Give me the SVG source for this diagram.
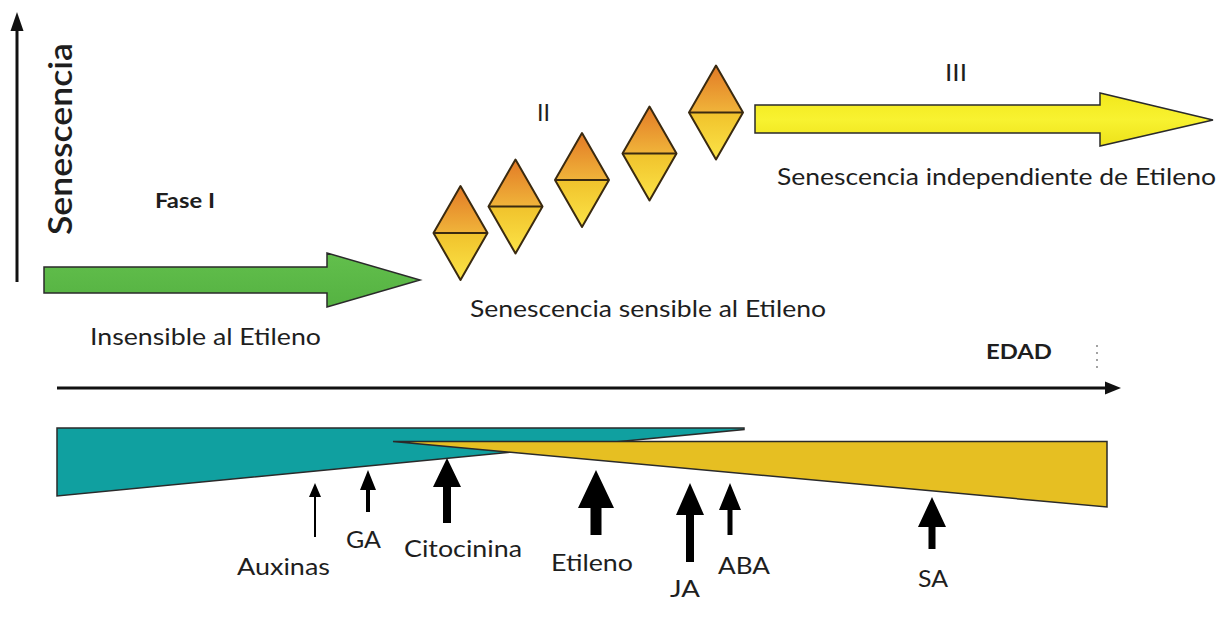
<svg xmlns="http://www.w3.org/2000/svg" width="1230" height="622" viewBox="0 0 1230 622">
  <defs>
    <linearGradient id="gTop" x1="0" y1="0" x2="0" y2="1">
      <stop offset="0" stop-color="#E27A26"/>
      <stop offset="1" stop-color="#F0B43A"/>
    </linearGradient>
    <linearGradient id="gBot" x1="0" y1="0" x2="0" y2="1">
      <stop offset="0" stop-color="#F0C22C"/>
      <stop offset="1" stop-color="#FCE447"/>
    </linearGradient>
    <linearGradient id="gGreen" x1="0" y1="0" x2="0" y2="1">
      <stop offset="0" stop-color="#62BF4C"/>
      <stop offset="1" stop-color="#55B242"/>
    </linearGradient>
    <linearGradient id="gYellow" x1="0" y1="0" x2="0" y2="1">
      <stop offset="0" stop-color="#F2E81C"/>
      <stop offset="0.5" stop-color="#F8F230"/>
      <stop offset="1" stop-color="#EDE21A"/>
    </linearGradient>
    <g id="diamond">
      <polygon points="-27,0 0,-47 27,0" fill="url(#gTop)"/>
      <polygon points="-27,0 0,47 27,0" fill="url(#gBot)"/>
      <polygon points="-27,0 0,-47 27,0 0,47" fill="none" stroke="#3A2A10" stroke-width="2" stroke-linejoin="round"/>
      <line x1="-27" y1="0" x2="27" y2="0" stroke="#3A2A10" stroke-width="2"/>
    </g>
  </defs>
  <style>
    text { font-family: Lato, "Open Sans", "Liberation Sans", sans-serif; fill: #1E1E1E; }
    .lbl { font-size: 23px; }
    .bold { font-weight: bold; font-size: 21px; }
    .axis { stroke: #111; stroke-width: 3; fill: none; }
    .head { fill: #111; }
    .outline { stroke: #2A2A2A; stroke-width: 1.5; stroke-linejoin: miter; }
    .harrow { fill: #000; }
  </style>
  <rect width="1230" height="622" fill="#FFFFFF"/>

  <g id="connectors">
    <!-- vertical Senescencia axis -->
    <line class="axis" x1="17" y1="282" x2="17" y2="26"/>
    <polygon class="head" points="17,12 10.5,31 23.5,31"/>
    <!-- horizontal EDAD axis -->
    <line class="axis" x1="57" y1="388" x2="1108" y2="388"/>
    <polygon class="head" points="1121,388 1105,381.5 1105,394.5"/>
    <line x1="1097" y1="345" x2="1097" y2="369" stroke="#666" stroke-width="1.2" stroke-dasharray="2,5"/>
    <!-- hormone arrows -->
    <polygon id="arr-auxinas" class="harrow" points="314,537 314,497 309,497 315,483 321,497 316,497 316,537"/>
    <polygon id="arr-ga" class="harrow" points="366,512 366,490 360,490 368,470 376,490 370,490 370,512"/>
    <polygon id="arr-citocinina" class="harrow" points="443,523 443,487 433,487 447,458 461,487 451,487 451,523"/>
    <polygon id="arr-etileno" class="harrow" points="590.5,535 590.5,508 578,508 596,470 614,508 601.5,508 601.5,535"/>
    <polygon id="arr-ja" class="harrow" points="686,562 686,515 676,515 690,483 704,515 694,515 694,562"/>
    <polygon id="arr-aba" class="harrow" points="727.5,535 727.5,510 719,510 730,483 741,510 732.5,510 732.5,535"/>
    <polygon id="arr-sa" class="harrow" points="928.5,549 928.5,527 918,527 932,497 946,527 935.5,527 935.5,549"/>
  </g>

  <g id="axis-label-senescencia">
    <text transform="translate(72,235) rotate(-90)" font-size="33" font-weight="600" textLength="192" lengthAdjust="spacingAndGlyphs">Senescencia</text>
  </g>

  <g id="phase1">
    <polygon class="outline" fill="url(#gGreen)" points="44,267 327,267 327,253 420,280 327,307 327,293 44,293"/>
    <text class="bold" x="155" y="208" textLength="60" lengthAdjust="spacingAndGlyphs">Fase I</text>
    <text class="lbl" x="90" y="345" textLength="231" lengthAdjust="spacingAndGlyphs">Insensible al Etileno</text>
  </g>

  <g id="phase2">
    <use href="#diamond" transform="translate(460.5,233)"/>
    <use href="#diamond" transform="translate(515.5,206.5)"/>
    <use href="#diamond" transform="translate(582,180)"/>
    <use href="#diamond" transform="translate(649.5,153.5)"/>
    <use href="#diamond" transform="translate(716,112.5)"/>
    <text class="lbl" x="537" y="121" font-size="22" textLength="13" lengthAdjust="spacingAndGlyphs">II</text>
    <text class="lbl" x="470" y="317" textLength="356" lengthAdjust="spacingAndGlyphs">Senescencia sensible al Etileno</text>
  </g>

  <g id="phase3">
    <polygon class="outline" fill="url(#gYellow)" points="755,105 1100,105 1100,93 1213,120 1100,146 1100,133 755,133"/>
    <text class="lbl" x="945" y="81" font-size="22" textLength="22" lengthAdjust="spacingAndGlyphs">III</text>
    <text class="lbl" x="777" y="185" textLength="439" lengthAdjust="spacingAndGlyphs">Senescencia independiente de Etileno</text>
  </g>

  <g id="edad-label">
    <text class="bold" x="986" y="359" font-size="22" textLength="66" lengthAdjust="spacingAndGlyphs">EDAD</text>
  </g>

  <g id="teal-wedge">
    <polygon class="outline" fill="#10A0A0" points="57,428 744,428 744,429.5 57,496"/>
  </g>
  <g id="yellow-wedge">
    <polygon class="outline" fill="#E6BF22" points="393,441.5 1107,441.5 1107,507"/>
  </g>

  <g id="hormone-labels">
    <text id="lbl-auxinas" class="lbl" x="237" y="575" textLength="93" lengthAdjust="spacingAndGlyphs">Auxinas</text>
    <text id="lbl-ga" class="lbl" x="346" y="548" textLength="35" lengthAdjust="spacingAndGlyphs">GA</text>
    <text id="lbl-citocinina" class="lbl" x="404" y="557" textLength="118" lengthAdjust="spacingAndGlyphs">Citocinina</text>
    <text id="lbl-etileno" class="lbl" x="551" y="571" textLength="82" lengthAdjust="spacingAndGlyphs">Etileno</text>
    <text id="lbl-ja" class="lbl" x="670" y="597" textLength="30" lengthAdjust="spacingAndGlyphs">JA</text>
    <text id="lbl-aba" class="lbl" x="718" y="574" textLength="52" lengthAdjust="spacingAndGlyphs">ABA</text>
    <text id="lbl-sa" class="lbl" x="918" y="587" textLength="30" lengthAdjust="spacingAndGlyphs">SA</text>
  </g>
</svg>
